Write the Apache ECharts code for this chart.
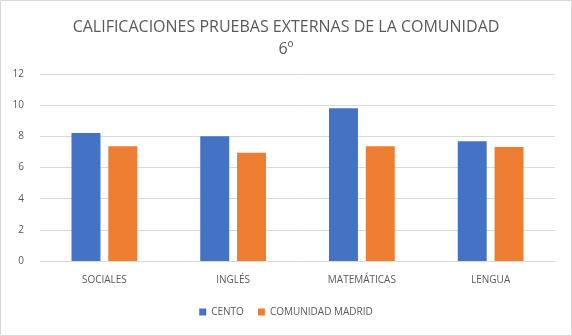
<!DOCTYPE html>
<html><head><meta charset="utf-8">
<script src="https://cdn.jsdelivr.net/npm/echarts@6/dist/echarts.min.js"></script>
<style>html,body{margin:0;padding:0;background:#fff}#c{width:572px;height:336px}</style>
</head><body><div id="c"></div>
<script>
const categories = ['SOCIALES', 'INGLÉS', 'MATEMÁTICAS', 'LENGUA'];
const cento = [8.22, 8.01, 9.80, 7.69];
const comunidadMadrid = [7.37, 6.95, 7.37, 7.31];
const yTicks = [0, 2, 4, 6, 8, 10, 12];

const chart = echarts.init(document.getElementById('c'), null, {renderer: 'canvas'});
const txt = '#595959';
chart.setOption({
  animation: false,
  backgroundColor: '#fff',
  graphic: [{type: 'rect', shape: {x: 0.5, y: 0.5, width: 571, height: 335}, style: {fill: 'none', stroke: '#d9d9d9', lineWidth: 1}}],
  title: {
    text: 'CALIFICACIONES PRUEBAS EXTERNAS DE LA COMUNIDAD\n6º',
    left: 'center', top: 11,
    textStyle: {fontFamily: 'Open Sans', fontWeight: 'normal', fontSize: 16, color: txt, lineHeight: 22}
  },
  legend: {
    bottom: 14, left: 'center', itemWidth: 7, itemHeight: 7, itemGap: 14,
    icon: 'rect',
    textStyle: {fontFamily: 'Open Sans', fontSize: 10, color: txt}
  },
  grid: {left: 40, right: 17, top: 74, bottom: 75, containLabel: false},
  xAxis: {
    type: 'category', data: categories,
    axisLine: {lineStyle: {color: '#d9d9d9'}}, axisTick: {show: false},
    axisLabel: {fontFamily: 'Open Sans', fontSize: 10, color: txt, margin: 14}
  },
  yAxis: {
    type: 'value', min: yTicks[0], max: yTicks[yTicks.length - 1], interval: 2,
    axisLine: {show: false}, axisTick: {show: false},
    splitLine: {lineStyle: {color: '#d9d9d9'}},
    axisLabel: {fontFamily: 'Open Sans', fontSize: 10, color: txt, margin: 16}
  },
  series: [
    {name: 'CENTO', type: 'bar', data: cento, itemStyle: {color: '#4472c4'}, barWidth: '22.5%', barGap: '27%'},
    {name: 'COMUNIDAD MADRID', type: 'bar', data: comunidadMadrid, itemStyle: {color: '#ed7d31'}, barWidth: '22.5%'}
  ]
});
</script></body></html>
